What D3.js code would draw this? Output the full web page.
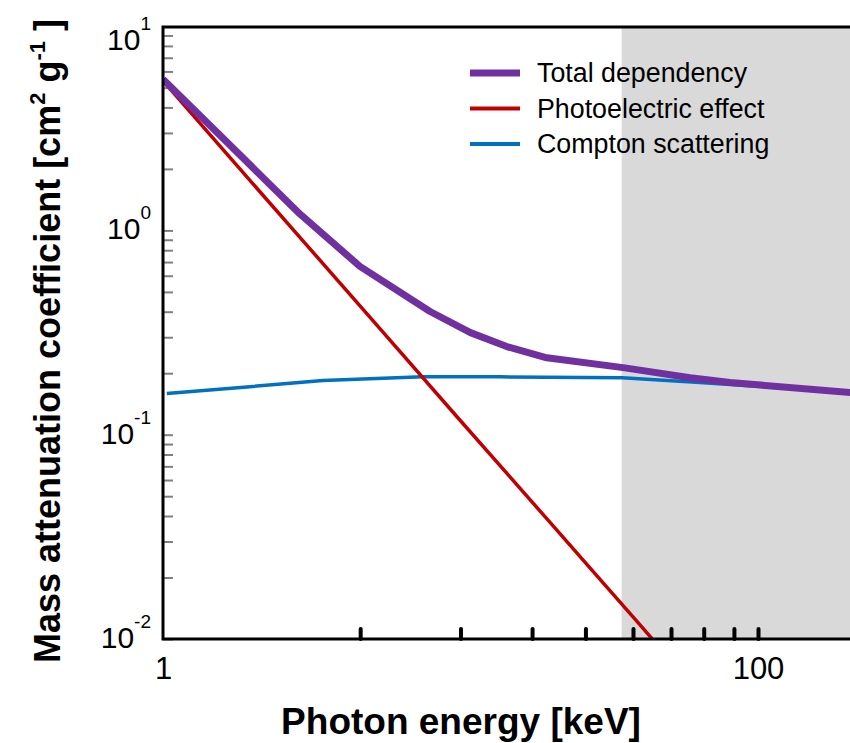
<!DOCTYPE html>
<html>
<head>
<meta charset="utf-8">
<script src="https://cdn.jsdelivr.net/npm/d3@7"></script>
<style>
  body { margin: 0; background: #fff; }
  svg { display: block; font-family: "Liberation Sans", Arial, sans-serif; }
</style>
</head>
<body>
<svg id="chart" width="850" height="743"></svg>
<script>
// photon energy (keV) / mass attenuation coefficient (cm2 g-1)
const totalEnergy = [1, 2.89, 4.59, 7.9, 10.8, 14.3, 19.5, 35.2, 59.1, 80.5, 205];
const totalMu = [5.5, 1.2, 0.667, 0.401, 0.316, 0.27, 0.238, 0.213, 0.19, 0.18, 0.161];

const photoEnergy = [1, 2, 3, 5, 10, 20, 30, 40, 50];
const photoMu = [5.4, 1.7, 0.867, 0.371, 0.117, 0.0372, 0.019, 0.0118, 0.0081];

const comptonEnergy = [1.03, 3.45, 7.48, 13.6, 35, 63.8, 101.6, 205];
const comptonMu = [0.159, 0.184, 0.192, 0.192, 0.19, 0.18, 0.172, 0.163];

const shadeFrom = 34.8;

const xTicks = [4.6, 10, 17.4, 26.3, 38, 51, 65.7, 83, 100];
const xLabels = [1, 100];
const yLabels = [10, 1, 0.1, 0.01];

const legendNames = ['Total dependency', 'Photoelectric effect', 'Compton scattering'];
const legendColors = ['#7030a0', '#c00000', '#0070c0'];
const legendWidths = [7, 3.5, 3.5];

const margin = { top: 27, left: 163, bottom: 639 };

let svg = d3.select('#chart'),
    x = d3.scaleLog().domain([1, 205]).range([margin.left, margin.left + 297.5 * Math.log10(205)]),
    y = d3.scaleLog().domain([0.01, 9.9]).range([margin.bottom, margin.top]),
    xEnd = x.range()[1];

svg.append('defs').append('clipPath').attr('id', 'plot-clip')
  .append('rect')
    .attr('x', margin.left).attr('y', margin.top)
    .attr('width', xEnd - margin.left).attr('height', margin.bottom - margin.top);

// shaded energy band
svg.append('rect')
  .attr('x', x(shadeFrom))
  .attr('y', margin.top)
  .attr('width', xEnd - x(shadeFrom))
  .attr('height', margin.bottom - margin.top)
  .attr('fill', '#d9d9d9');

// minor y ticks, pointing inward
let yMinor = [];
[0.01, 0.1, 1].forEach(d => {
  for (let k = 1; k < 10; k++) {
    let v = d * k;
    if (v <= y.domain()[1]) yMinor.push(v);
  }
});

let yAxis = svg.append('g')
  .attr('transform', `translate(${margin.left},0)`)
  .call(d3.axisRight(y).tickValues(yMinor).tickSize(10).tickFormat(''));
yAxis.select('.domain').remove();
yAxis.selectAll('line').attr('stroke', '#808080').attr('stroke-width', 2);

let yText = svg.append('g')
  .selectAll('text')
  .data(yLabels)
  .enter().append('text')
    .attr('x', 151)
    .attr('y', d => Math.max(y(d) + 9, 50))
    .attr('text-anchor', 'end')
    .attr('font-size', 30)
    .attr('fill', '#000');
yText.append('tspan').text('10');
yText.append('tspan')
  .attr('font-size', 19)
  .attr('dy', -20)
  .text(d => Math.round(Math.log10(d)));

// x ticks pointing up from the bottom axis
let xAxis = svg.append('g')
  .attr('transform', `translate(0,${margin.bottom})`)
  .call(d3.axisBottom(x).tickValues(xTicks).tickSize(-10).tickFormat(''));
xAxis.select('.domain').remove();
xAxis.selectAll('line')
  .attr('stroke', '#000')
  .attr('stroke-width', 4)
  .attr('stroke-linecap', 'round');

let xLabelAxis = svg.append('g')
  .attr('transform', `translate(0,${margin.bottom})`)
  .call(d3.axisBottom(x).tickValues(xLabels).tickSize(0).tickPadding(18).tickFormat(d3.format('d')));
xLabelAxis.select('.domain').remove();
xLabelAxis.selectAll('text')
  .attr('font-size', 31)
  .attr('font-family', '"Liberation Sans", Arial, sans-serif')
  .attr('fill', '#000');

// curves
let line = d3.line()
  .x(d => x(d[0]))
  .y(d => y(d[1]));

let series = [
  { data: d3.zip(comptonEnergy, comptonMu), color: legendColors[2], width: legendWidths[2] },
  { data: d3.zip(photoEnergy, photoMu), color: legendColors[1], width: legendWidths[1] },
  { data: d3.zip(totalEnergy, totalMu), color: legendColors[0], width: legendWidths[0] }
];

svg.append('g')
  .attr('clip-path', 'url(#plot-clip)')
  .selectAll('path')
  .data(series)
  .enter().append('path')
    .attr('d', d => line(d.data))
    .attr('fill', 'none')
    .attr('stroke', d => d.color)
    .attr('stroke-width', d => d.width)
    .attr('stroke-linejoin', 'round');

// frame: left, bottom and top lines (right side runs off the picture)
svg.append('path')
  .attr('d', `M${xEnd + 5},${margin.top}H${margin.left}V${margin.bottom}H${xEnd + 5}`)
  .attr('fill', 'none')
  .attr('stroke', '#000')
  .attr('stroke-width', 3);

// legend
let legend = svg.append('g')
  .selectAll('g')
  .data(legendNames)
  .enter().append('g')
    .attr('transform', (d, i) => `translate(470,${73 + i * 35.5})`);

legend.append('line')
  .attr('x1', 0).attr('x2', 50)
  .attr('stroke', (d, i) => legendColors[i])
  .attr('stroke-width', (d, i) => legendWidths[i] === 7 ? 7 : 4);

legend.append('text')
  .attr('x', 67)
  .attr('dy', '0.35em')
  .attr('font-size', 26.8)
  .text(d => d);

// axis titles
svg.append('text')
  .attr('x', 461)
  .attr('y', 734)
  .attr('text-anchor', 'middle')
  .attr('font-size', 37)
  .attr('font-weight', 'bold')
  .text('Photon energy [keV]');

let yTitle = svg.append('text')
  .attr('transform', 'translate(60,341) rotate(-90)')
  .attr('text-anchor', 'middle')
  .attr('font-size', 36)
  .attr('font-weight', 'bold');
yTitle.append('tspan').text('Mass attenuation coefficient [cm');
yTitle.append('tspan').attr('font-size', 22).attr('dy', -15).text('2');
yTitle.append('tspan').attr('dy', 15).text(' g');
yTitle.append('tspan').attr('font-size', 22).attr('dy', -15).text('-1');
yTitle.append('tspan').attr('dy', 15).text(' ]');
</script>
</body>
</html>
